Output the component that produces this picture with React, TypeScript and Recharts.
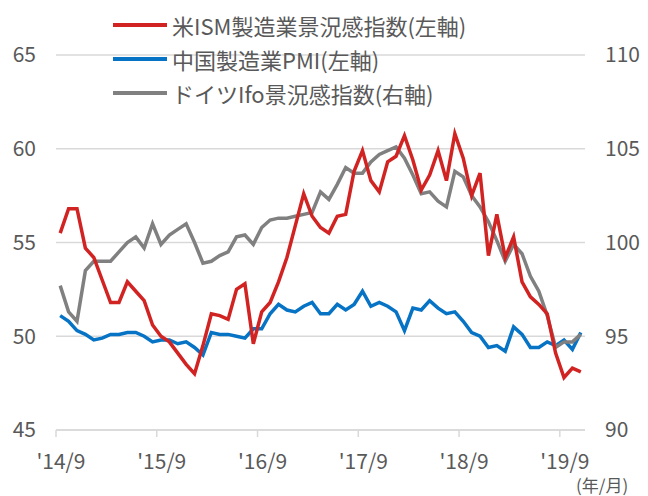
import { LineChart, Line, XAxis, YAxis, CartesianGrid } from "recharts";

// 2014/9 - 2019/11, monthly
const startYear = 2014;
const startMonth = 9;
const monthCount = 63;

const ismUS = [
  55.5, 56.8, 56.8, 54.7, 54.2, 53.0, 51.8, 51.8, 52.9, 52.4, 51.9, 50.6,
  50.0, 49.7, 49.1, 48.5, 48.0, 49.5, 51.2, 51.1, 50.9, 52.5, 52.8, 49.6,
  51.3, 51.8, 52.9, 54.2, 55.9, 57.6, 56.4, 55.8, 55.5, 56.4, 56.5, 58.8,
  59.9, 58.3, 57.7, 59.3, 59.6, 60.7, 59.4, 57.8, 58.6, 59.9, 58.3, 60.8,
  59.5, 57.5, 58.7, 54.3, 56.5, 54.2, 55.3, 52.9, 52.1, 51.7, 51.2, 49.1,
  47.8, 48.3, 48.1,
];

const pmiChina = [
  51.1, 50.8, 50.3, 50.1, 49.8, 49.9, 50.1, 50.1, 50.2, 50.2, 50.0, 49.7,
  49.8, 49.8, 49.6, 49.7, 49.4, 49.0, 50.2, 50.1, 50.1, 50.0, 49.9, 50.4,
  50.4, 51.2, 51.7, 51.4, 51.3, 51.6, 51.8, 51.2, 51.2, 51.7, 51.4, 51.7,
  52.4, 51.6, 51.8, 51.6, 51.3, 50.3, 51.5, 51.4, 51.9, 51.5, 51.2, 51.3,
  50.8, 50.2, 50.0, 49.4, 49.5, 49.2, 50.5, 50.1, 49.4, 49.4, 49.7, 49.5,
  49.8, 49.3, 50.2,
];

const ifoGermany = [
  97.7, 96.3, 95.8, 98.5, 99.0, 99.0, 99.0, 99.5, 100.0, 100.3, 99.7, 101.0,
  99.9, 100.4, 100.7, 101.0, 100.0, 98.9, 99.0, 99.3, 99.5, 100.3, 100.4, 99.9,
  100.8, 101.2, 101.3, 101.3, 101.4, 101.5, 101.6, 102.7, 102.3, 103.1, 104.0, 103.7,
  103.7, 104.3, 104.7, 104.9, 105.1, 104.5, 103.6, 102.6, 102.7, 102.2, 101.9, 103.8,
  103.5, 102.5, 101.9, 101.1, 100.1, 99.0, 99.9, 99.4, 98.2, 97.4, 96.1, 94.4,
  94.7, 94.7, 95.1,
];

const tickMonths = ["2014/9", "2015/9", "2016/9", "2017/9", "2018/9", "2019/9"];
const tickLabels = ["'14/9", "'15/9", "'16/9", "'17/9", "'18/9", "'19/9"];
const leftTicks = [45, 50, 55, 60, 65];
const rightTicks = [90, 95, 100, 105, 110];

const seriesNames = [
  "米ISM製造業景況感指数(左軸)",
  "中国製造業PMI(左軸)",
  "ドイツIfo景況感指数(右軸)",
];

const colors = {
  ism: "#d22323",
  china: "#0673c4",
  ifo: "#808080",
};

const months: string[] = [];
for (let k = 0; k < monthCount; k++) {
  const m = startMonth - 1 + k;
  months.push(`${startYear + Math.floor(m / 12)}/${(m % 12) + 1}`);
}

const data = months.map((month, i) => ({
  i,
  month,
  ism: ismUS[i],
  china: pmiChina[i],
  ifo: ifoGermany[i],
}));

// Excel-style category axis: tick marks sit between categories
const xTicks = tickMonths.map((m) => months.indexOf(m) - 0.5);

const font = "'Noto Sans CJK JP', 'Noto Sans', sans-serif";
const textColor = "#595959";
const gridColor = "#d9d9d9";

function XTick(props: any) {
  const { x, y, payload } = props;
  const label = tickLabels[xTicks.indexOf(payload.value)];
  return (
    <text
      x={x + 5}
      y={y}
      dy={30}
      textAnchor="middle"
      fill={textColor}
      fontSize={21}
      fontFamily={font}
    >
      {label}
    </text>
  );
}

export default function App() {
  const legendItems = [
    { name: seriesNames[0], color: colors.ism },
    { name: seriesNames[1], color: colors.china },
    { name: seriesNames[2], color: colors.ifo },
  ];

  return (
    <div style={{ position: "relative", width: 640, height: 488, fontFamily: font }}>
      <LineChart
        width={640}
        height={488}
        data={data}
        margin={{ top: 47, right: 8, left: 8, bottom: 36 }}
      >
        <CartesianGrid
          yAxisId="left"
          vertical={false}
          stroke={gridColor}
          strokeWidth={1.5}
        />
        <XAxis
          dataKey="i"
          type="number"
          domain={[-0.5, monthCount - 0.5]}
          ticks={xTicks}
          interval={0}
          height={30}
          axisLine={{ stroke: gridColor, strokeWidth: 1.5 }}
          tickLine={{ stroke: gridColor, strokeWidth: 1.5 }}
          tickSize={7}
          tick={<XTick />}
        />
        <YAxis
          yAxisId="left"
          domain={[45, 65]}
          ticks={leftTicks}
          width={40}
          axisLine={false}
          tickLine={false}
          tickSize={0}
          tickMargin={20}
          tick={{ fill: textColor, fontSize: 21, fontFamily: font }}
        />
        <YAxis
          yAxisId="right"
          orientation="right"
          domain={[90, 110]}
          ticks={rightTicks}
          width={55}
          axisLine={false}
          tickLine={false}
          tickSize={0}
          tickMargin={20}
          tick={{ fill: textColor, fontSize: 21, fontFamily: font, textAnchor: "start" }}
        />
        <Line
          yAxisId="left"
          type="linear"
          dataKey="china"
          stroke={colors.china}
          strokeWidth={3.5}
          dot={false}
          isAnimationActive={false}
        />
        <Line
          yAxisId="right"
          type="linear"
          dataKey="ifo"
          stroke={colors.ifo}
          strokeWidth={3.5}
          dot={false}
          isAnimationActive={false}
        />
        <Line
          yAxisId="left"
          type="linear"
          dataKey="ism"
          stroke={colors.ism}
          strokeWidth={3.5}
          dot={false}
          isAnimationActive={false}
        />
      </LineChart>

      {/* legend */}
      {legendItems.map((item, k) => (
        <div
          key={item.name}
          style={{
            position: "absolute",
            left: 105,
            top: 17 + k * 34 - 13,
            height: 26,
            display: "flex",
            alignItems: "center",
            whiteSpace: "nowrap",
            fontSize: 22,
            color: textColor,
          }}
        >
          <span
            style={{
              display: "inline-block",
              width: 54,
              height: 4,
              backgroundColor: item.color,
              marginRight: 5,
            }}
          />
          {item.name}
        </div>
      ))}

      <div
        style={{
          position: "absolute",
          left: 568,
          top: 468,
          fontSize: 17,
          lineHeight: "18px",
          color: textColor,
          whiteSpace: "nowrap",
        }}
      >
        (年/月)
      </div>
    </div>
  );
}
